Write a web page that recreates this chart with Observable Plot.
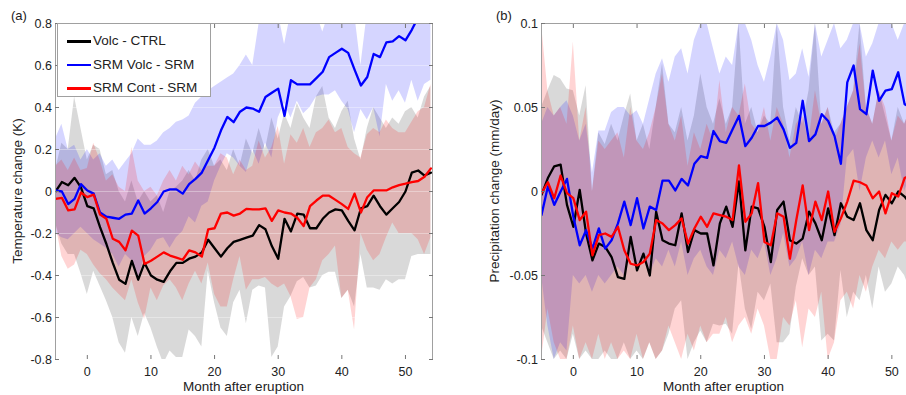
<!DOCTYPE html>
<html><head><meta charset="utf-8">
<script src="https://cdn.jsdelivr.net/npm/d3@7"></script>
<script src="https://cdn.jsdelivr.net/npm/@observablehq/plot@0.6"></script>
<style>
html,body{margin:0;padding:0;background:#fff;overflow:hidden;}
#wrap{position:relative;width:906px;height:395px;font-family:"Liberation Sans",Arial,Helvetica,sans-serif;color:#222;}
.panel{position:absolute;top:0;}
.txt{position:absolute;white-space:nowrap;font-size:13.5px;line-height:1;}
.plab{font-size:13px;}
.ylab{transform:translate(-50%,-50%) rotate(-90deg);}
.xlab{transform:translate(-50%,0);}
.legend{position:absolute;left:57px;top:23px;width:154px;height:74px;background:#fff;border:1px solid #a0a0a0;box-sizing:border-box;}
.legend .row{position:absolute;left:0;height:16px;}
.legend .sw{position:absolute;left:9px;top:7px;width:24px;height:2.6px;}
.legend .lt{position:absolute;left:35px;top:0;font-size:13.5px;line-height:16px;white-space:nowrap;}
</style></head><body><div id="wrap"></div><script>
// ---------- data ----------
const months = [-5,-4,-3,-2,-1,0,1,2,3,4,5,6,7,8,9,10,11,12,13,14,15,16,17,18,19,20,21,22,23,24,25,26,27,28,29,30,31,32,33,34,35,36,37,38,39,40,41,42,43,44,45,46,47,48,49,50,51,52,53,54];
const seriesNames = ["Volc - CTRL", "SRM Volc - SRM", "SRM Cont - SRM"];
const seriesColors = ["#000000", "#0000ff", "#ff0000"];
const xTicks = [0,10,20,30,40,50];
const tempTicks = [-0.8,-0.6,-0.4,-0.2,0,0.2,0.4,0.6,0.8];
const precTicks = [-0.1,-0.05,0,0.05,0.1];

// Panel (a): temperature change (K)
const tempVolc = [0.00,0.045,0.03,0.065,0.02,
 -0.07,-0.08,-0.17,-0.25,-0.34,-0.42,-0.44,-0.33,-0.42,-0.34,
 -0.40,-0.42,-0.43,-0.38,-0.34,-0.34,-0.32,-0.31,-0.29,-0.23,
 -0.27,-0.31,-0.27,-0.24,-0.23,-0.22,-0.21,-0.16,-0.18,-0.26,
 -0.32,-0.13,-0.19,-0.105,-0.11,-0.175,-0.175,-0.13,-0.10,-0.085,
 -0.09,-0.14,-0.185,-0.08,-0.07,-0.02,-0.07,-0.11,-0.08,-0.05,
 0.00,0.09,0.10,0.076,0.09];
const tempSrmVolc = [0.005,0.0,-0.06,-0.035,0.035,
 0.005,-0.01,-0.10,-0.12,-0.125,-0.13,-0.11,-0.105,-0.043,-0.105,
 -0.08,-0.05,0.0,0.01,0.01,-0.01,0.035,0.06,0.09,0.15,
 0.21,0.29,0.355,0.33,0.38,0.40,0.395,0.38,0.45,0.47,
 0.49,0.36,0.53,0.51,0.51,0.51,0.54,0.57,0.64,0.66,
 0.68,0.66,0.58,0.505,0.545,0.655,0.64,0.71,0.715,0.74,
 0.72,0.77,0.83,0.88,0.92];
const tempSrmCont = [-0.035,-0.03,-0.09,-0.085,-0.005,
 -0.027,-0.015,-0.11,-0.13,-0.225,-0.24,-0.28,-0.186,-0.21,-0.345,
 -0.33,-0.31,-0.29,-0.305,-0.315,-0.325,-0.28,-0.29,-0.31,-0.18,
 -0.175,-0.105,-0.10,-0.115,-0.105,-0.083,-0.085,-0.085,-0.08,-0.14,
 -0.09,-0.10,-0.105,-0.125,-0.165,-0.07,-0.043,-0.02,-0.02,-0.04,
 -0.06,-0.083,-0.01,-0.10,-0.027,0.005,0.005,0.005,0.02,0.03,
 0.037,0.045,0.05,0.07,0.11];
const tempVolcHi = [0.10,0.23,0.20,0.45,0.30,
 0.15,0.22,0.20,0.08,0.10,0.00,-0.05,0.05,-0.05,0.00,
 -0.05,-0.02,-0.10,0.00,0.02,0.05,0.10,0.05,0.15,0.20,
 0.12,0.15,0.10,0.20,0.12,0.25,0.18,0.30,0.20,0.35,
 0.25,0.37,0.30,0.42,0.35,0.30,0.45,0.50,0.35,0.30,
 0.38,0.43,0.25,0.15,0.30,0.40,0.35,0.30,0.35,0.32,
 0.38,0.40,0.35,0.45,0.50];
const tempVolcLo = [-0.15,-0.25,-0.30,-0.30,-0.39,
 -0.49,-0.38,-0.45,-0.52,-0.60,-0.72,-0.77,-0.60,-0.69,-0.58,
 -0.65,-0.74,-0.82,-0.76,-0.79,-0.79,-0.66,-0.69,-0.74,-0.38,
 -0.53,-0.65,-0.69,-0.53,-0.47,-0.63,-0.47,-0.45,-0.46,-0.79,
 -0.74,-0.55,-0.50,-0.43,-0.41,-0.46,-0.45,-0.40,-0.385,-0.385,
 -0.51,-0.47,-0.55,-0.30,-0.46,-0.46,-0.47,-0.42,-0.44,-0.42,
 -0.42,-0.31,-0.30,-0.30,-0.30];
const tempSrmVolcHi = [0.25,0.32,0.20,0.22,0.15,
 0.20,0.15,0.18,0.12,0.15,0.10,0.14,0.18,0.25,0.22,
 0.22,0.24,0.28,0.30,0.33,0.34,0.36,0.42,0.45,0.48,
 0.50,0.52,0.54,0.56,0.60,0.65,0.60,0.80,0.85,0.85,
 0.85,0.70,0.85,0.85,0.85,0.85,0.85,0.76,0.85,0.85,
 0.85,0.85,0.85,0.60,0.85,0.85,0.85,0.85,0.85,0.85,
 0.85,0.85,0.85,0.85,0.85];
const tempSrmVolcLo = [-0.20,-0.22,-0.23,-0.20,-0.17,
 -0.20,-0.23,-0.25,-0.27,-0.30,-0.36,-0.30,-0.33,-0.42,-0.31,
 -0.28,-0.23,-0.22,-0.27,-0.22,-0.19,-0.12,-0.15,-0.07,-0.05,
 0.05,0.12,0.18,0.16,0.12,0.09,0.20,0.13,0.23,0.16,
 0.35,0.42,0.35,0.43,0.37,0.40,0.45,0.46,0.46,0.48,
 0.43,0.39,0.28,0.39,0.34,0.40,0.26,0.51,0.43,0.48,
 0.42,0.53,0.43,0.51,0.53];
const tempSrmContHi = [0.12,0.15,0.10,0.16,0.10,
 0.11,0.23,0.15,0.05,0.08,0.02,0.00,0.21,0.05,0.00,
 0.02,-0.02,0.05,0.10,0.05,0.12,0.08,0.14,0.10,0.12,
 0.12,0.18,0.16,0.08,0.15,0.10,0.12,0.24,0.16,0.21,
 0.31,0.13,0.27,0.23,0.30,0.21,0.28,0.30,0.34,0.28,
 0.30,0.21,0.18,0.16,0.27,0.30,0.28,0.34,0.30,0.28,
 0.28,0.33,0.38,0.40,0.51];
const tempSrmContLo = [-0.15,-0.31,-0.37,-0.35,-0.28,
 -0.30,-0.35,-0.39,-0.42,-0.46,-0.49,-0.52,-0.42,-0.53,-0.61,
 -0.46,-0.52,-0.45,-0.42,-0.46,-0.52,-0.44,-0.38,-0.44,-0.34,
 -0.49,-0.55,-0.55,-0.42,-0.31,-0.47,-0.42,-0.42,-0.41,-0.44,
 -0.46,-0.44,-0.50,-0.61,-0.60,-0.46,-0.42,-0.33,-0.30,-0.26,
 -0.51,-0.47,-0.66,-0.20,-0.28,-0.33,-0.30,-0.22,-0.15,-0.20,
 -0.20,-0.20,-0.23,-0.30,-0.22];

// Panel (b): precipitation change (mm/day)
const precVolc = [-0.002,0.008,0.015,0.016,-0.008,
 -0.021,0.001,-0.025,-0.041,-0.031,-0.033,-0.039,-0.051,-0.052,-0.027,
 -0.047,-0.037,-0.05,-0.012,-0.029,-0.031,-0.032,-0.013,-0.036,-0.023,
 -0.025,-0.025,-0.044,-0.019,-0.009,-0.021,0.006,-0.035,-0.009,-0.01,
 -0.021,-0.042,-0.011,-0.006,-0.029,-0.031,-0.028,-0.012,-0.019,-0.029,
 -0.01,-0.026,-0.007,-0.015,-0.017,-0.007,-0.023,-0.029,-0.011,-0.002,
 -0.007,0.0,-0.003,-0.008,-0.01];
const precSrmVolc = [-0.014,0.003,-0.008,0.0,0.0075,
 -0.015,-0.032,-0.023,-0.034,-0.022,-0.034,-0.029,-0.019,-0.006,-0.02,
 -0.004,-0.022,-0.009,-0.011,0.0065,0.0065,0.0006,0.0075,0.0036,0.0165,
 0.021,0.02,0.036,0.03,0.029,0.037,0.045,0.027,0.032,0.039,
 0.039,0.041,0.044,0.037,0.026,0.029,0.054,0.03,0.034,0.046,
 0.042,0.033,0.0165,0.065,0.075,0.049,0.046,0.072,0.054,0.06,
 0.061,0.071,0.052,0.05,0.05];
const precSrmCont = [-0.001,0.0055,-0.004,0.0095,-0.001,
 -0.004,-0.017,-0.012,-0.038,-0.026,-0.025,-0.027,-0.021,-0.035,-0.043,
 -0.044,-0.042,-0.037,-0.017,-0.019,-0.023,-0.02,-0.016,-0.031,-0.022,
 -0.015,-0.021,-0.013,-0.014,-0.015,-0.017,0.0155,-0.018,-0.013,0.005,
 -0.03,-0.032,-0.013,-0.015,-0.04,-0.017,0.0036,-0.023,-0.006,-0.017,
 0.0,-0.024,-0.016,-0.006,0.0065,0.0055,0.0036,-0.004,0.0,-0.013,
 -0.001,-0.003,0.008,0.01,0.01];
const precVolcHi = [0.05,0.06,0.069,0.067,0.061,
 0.06,0.045,0.063,0.0,0.035,0.028,0.04,0.03,0.045,0.058,
 0.03,0.04,0.025,0.05,0.076,0.04,0.035,0.05,0.03,0.045,
 0.07,0.05,0.04,0.055,0.04,0.05,0.1,0.04,0.05,0.035,
 0.045,0.04,0.1,0.05,0.03,0.05,0.04,0.06,0.1,0.04,
 0.05,0.035,0.04,0.05,0.06,0.1,0.05,0.04,0.06,0.045,
 0.03,0.05,0.04,0.05,0.05];
const precVolcLo = [-0.08,-0.09,-0.1,-0.095,-0.1,
 -0.085,-0.1,-0.095,-0.1,-0.1,-0.095,-0.1,-0.1,-0.09,-0.1,
 -0.095,-0.1,-0.09,-0.1,-0.095,-0.085,-0.07,-0.065,-0.1,-0.09,
 -0.083,-0.09,-0.079,-0.08,-0.079,-0.085,-0.043,-0.07,-0.082,-0.06,
 -0.065,-0.055,-0.09,-0.09,-0.085,-0.057,-0.04,-0.05,-0.045,-0.089,
 -0.085,-0.089,-0.047,-0.075,-0.06,-0.065,-0.05,-0.07,-0.045,-0.06,
 -0.055,-0.045,-0.05,-0.06,-0.06];
const precSrmVolcHi = [0.04,0.05,0.045,0.05,0.054,
 0.045,0.03,0.04,0.011,0.036,0.036,0.047,0.05,0.05,0.045,
 0.048,0.04,0.055,0.07,0.079,0.065,0.08,0.085,0.07,0.09,
 0.1,0.1,0.085,0.07,0.08,0.075,0.1,0.1,0.09,0.075,
 0.065,0.08,0.1,0.09,0.066,0.07,0.085,0.068,0.1,0.08,
 0.09,0.1,0.085,0.09,0.1,0.1,0.08,0.088,0.1,0.1,
 0.1,0.09,0.1,0.1,0.1];
const precSrmVolcLo = [-0.05,-0.08,-0.1,-0.09,-0.095,
 -0.05,-0.055,-0.05,-0.06,-0.05,-0.055,-0.05,-0.045,-0.05,-0.04,
 -0.045,-0.04,-0.05,-0.04,-0.045,-0.035,-0.045,-0.03,-0.05,-0.04,
 -0.035,-0.045,-0.05,-0.035,-0.04,-0.03,-0.045,-0.05,-0.035,-0.04,
 -0.03,-0.05,-0.04,-0.025,-0.045,-0.04,-0.03,-0.05,-0.035,-0.04,
 -0.03,-0.03,-0.02,0.02,0.025,0.0,0.02,0.03,0.02,0.03,
 0.01,0.02,0.0,0.01,0.01];
const precSrmContHi = [0.1,0.06,0.045,0.05,0.04,
 0.089,0.03,0.05,0.0,0.03,0.025,0.03,0.035,0.02,0.05,
 0.03,0.025,0.035,0.05,0.07,0.04,0.03,0.045,0.015,0.035,
 0.025,0.04,0.03,0.066,0.035,0.05,0.045,0.064,0.04,0.035,
 0.05,0.03,0.05,0.04,0.02,0.04,0.045,0.03,0.06,0.04,
 0.05,0.03,0.04,0.05,0.06,0.088,0.05,0.04,0.06,0.05,
 0.03,0.045,0.04,0.05,0.05];
const precSrmContLo = [-0.1,-0.07,-0.09,-0.1,-0.1,
 -0.08,-0.1,-0.09,-0.1,-0.085,-0.1,-0.09,-0.1,-0.095,-0.1,
 -0.085,-0.1,-0.09,-0.1,-0.095,-0.08,-0.09,-0.1,-0.085,-0.095,
 -0.08,-0.09,-0.085,-0.085,-0.075,-0.09,-0.08,-0.075,-0.085,-0.07,
 -0.08,-0.1,-0.1,-0.075,-0.08,-0.065,-0.093,-0.07,-0.075,-0.06,
 -0.1,-0.09,-0.065,-0.06,-0.07,-0.05,-0.06,-0.045,-0.035,-0.04,
 -0.03,-0.035,-0.03,-0.03,-0.03];

// ---------- build ----------
const fmt = d => (d === 0 ? "0" : String(d));
function rowsOf(lines, bands) {
  return months.map((m, i) => ({
    m,
    l0: lines[0][i], l1: lines[1][i], l2: lines[2][i],
    lo0: bands[0][0][i], hi0: bands[0][1][i],
    lo1: bands[1][0][i], hi1: bands[1][1][i],
    lo2: bands[2][0][i], hi2: bands[2][1][i]
  }));
}
const bandFill = ["#808080", "#0000ff", "#ff0000"];
const bandOpacity = [0.3, 0.165, 0.17];

function panel({width, marginLeft, marginRight, xDomain, yDomain, yTicks, rows, rightFrame, grid}) {
  const frameColor = "#a0a0a0";
  const marks = [];
  for (let k = 0; k < 3; k++) {
    marks.push(Plot.areaY(rows, {x: "m", y1: "lo" + k, y2: "hi" + k, fill: bandFill[k], fillOpacity: bandOpacity[k], clip: true}));
  }
  if (grid) marks.push(Plot.ruleY(yTicks.slice(1, -1), {stroke: "#ffffff", strokeOpacity: 0.35}));
  for (let k = 0; k < 3; k++) {
    marks.push(Plot.lineY(rows, {x: "m", y: "l" + k, stroke: seriesColors[k], strokeWidth: 2.3, clip: true}));
  }
  marks.push(Plot.ruleY([yDomain[1]], {stroke: frameColor}));
  marks.push(Plot.ruleX([xDomain[0]], {stroke: frameColor}));
  if (rightFrame) marks.push(Plot.ruleX([xDomain[1]], {stroke: frameColor}));
  // inward tick marks (box style)
  marks.push(Plot.axisX(xTicks, {anchor: "bottom", tickSize: -4, tickFormat: () => "", stroke: "#777", label: null}));
  marks.push(Plot.axisX(xTicks, {anchor: "top", tickSize: -4, tickFormat: () => "", stroke: "#777", label: null}));
  marks.push(Plot.axisY(yTicks, {anchor: "left", tickSize: -4, tickFormat: () => "", stroke: "#777", label: null}));
  if (rightFrame) marks.push(Plot.axisY(yTicks, {anchor: "right", tickSize: -4, tickFormat: () => "", stroke: "#777", label: null}));
  // tick labels
  marks.push(Plot.axisX(xTicks, {anchor: "bottom", tickSize: 0, tickPadding: 8, tickFormat: fmt, label: null, fill: "#222", fontSize: 12.5}));
  marks.push(Plot.axisY(yTicks, {anchor: "left", tickSize: 0, tickPadding: 3.5, tickFormat: fmt, label: null, fill: "#222", fontSize: 12.5}));
  return Plot.plot({
    width, height: 395,
    marginLeft, marginRight, marginTop: 23, marginBottom: 36,
    style: {fontFamily: '"Liberation Sans", Arial, Helvetica, sans-serif', fontSize: "12.5px", background: "transparent", overflow: "visible"},
    x: {domain: xDomain},
    y: {domain: yDomain},
    marks
  });
}

const wrap = document.getElementById("wrap");
const rowsA = rowsOf([tempVolc, tempSrmVolc, tempSrmCont],
  [[tempVolcLo, tempVolcHi], [tempSrmVolcLo, tempSrmVolcHi], [tempSrmContLo, tempSrmContHi]]);
const rowsB = rowsOf([precVolc, precSrmVolc, precSrmCont],
  [[precVolcLo, precVolcHi], [precSrmVolcLo, precSrmVolcHi], [precSrmContLo, precSrmContHi]]);

const svgA = panel({width: 460, marginLeft: 55, marginRight: 28, xDomain: [-5, 54.25], yDomain: [-0.8, 0.8], yTicks: tempTicks, rows: rowsA, rightFrame: true, grid: true});
svgA.classList.add("panel"); svgA.style.left = "0px";
wrap.appendChild(svgA);
const svgB = panel({width: 446, marginLeft: 81, marginRight: 0, xDomain: [-5, 52.3], yDomain: [-0.1, 0.1], yTicks: precTicks, rows: rowsB, rightFrame: false, grid: false});
svgB.classList.add("panel"); svgB.style.left = "460px";
wrap.appendChild(svgB);

// text overlays
function addText(cls, text, left, top) {
  const d = document.createElement("div");
  d.className = "txt " + cls; d.textContent = text;
  d.style.left = left + "px"; d.style.top = top + "px";
  wrap.appendChild(d); return d;
}
addText("plab", "(a)", 11, 9);
addText("plab", "(b)", 496, 9);
addText("ylab", "Temperature change (K)", 18, 191);
addText("ylab", "Precipitation change (mm/day)", 495, 191);
addText("xlab", "Month after eruption", 243.5, 380);
addText("xlab", "Month after eruption", 723.5, 380);

// legend
const lg = document.createElement("div");
lg.className = "legend";
seriesNames.forEach((name, i) => {
  const r = document.createElement("div");
  r.className = "row"; r.style.top = (9 + i * 23.5) + "px"; r.style.width = "100%";
  const sw = document.createElement("div"); sw.className = "sw"; sw.style.background = seriesColors[i];
  const t = document.createElement("div"); t.className = "lt"; t.textContent = name;
  r.appendChild(sw); r.appendChild(t); lg.appendChild(r);
});
wrap.appendChild(lg);
</script></body></html>
